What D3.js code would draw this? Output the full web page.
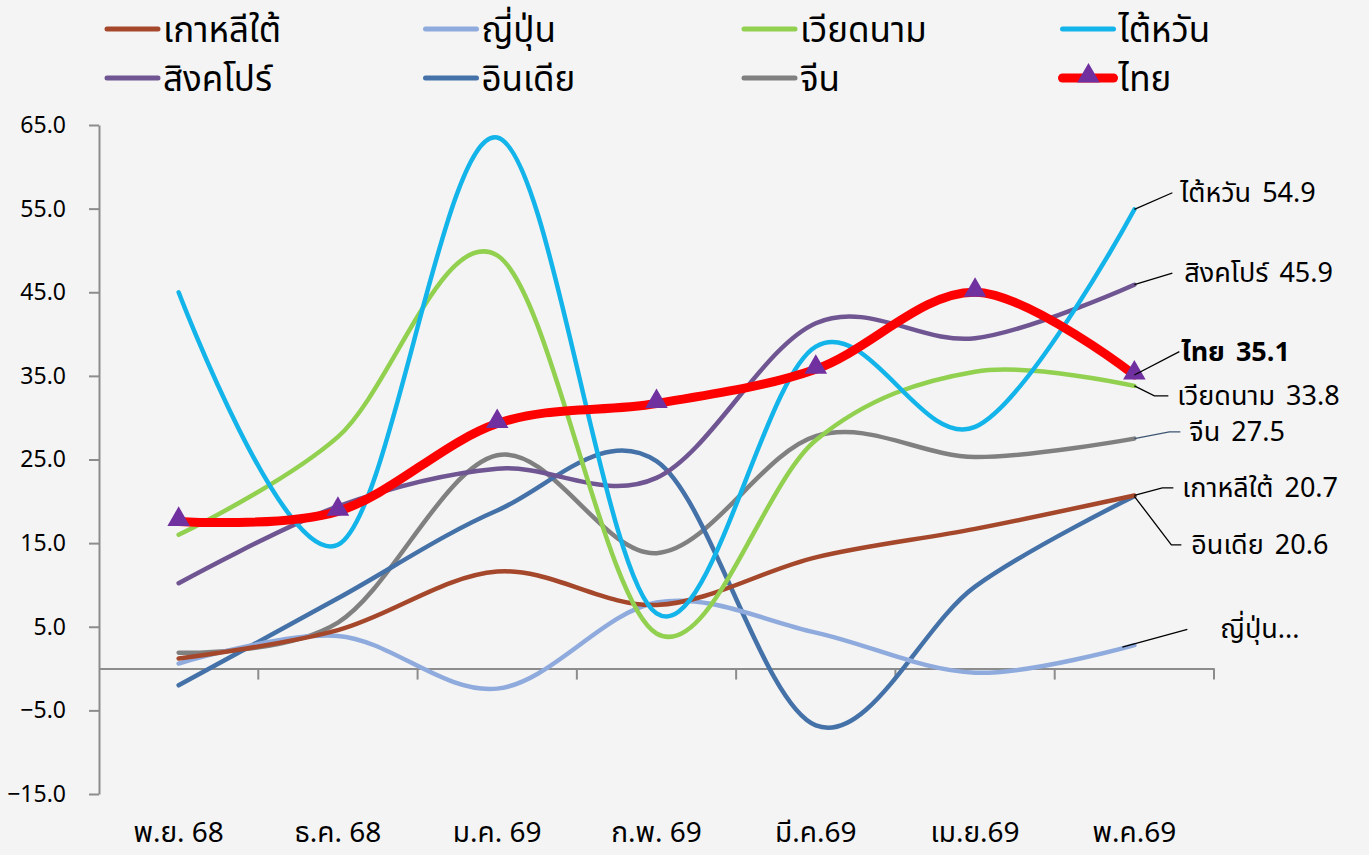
<!DOCTYPE html>
<html><head><meta charset="utf-8">
<script src="https://cdnjs.cloudflare.com/ajax/libs/d3/7.8.5/d3.min.js"></script>
<style>
html,body{margin:0;padding:0;background:#F4F4F4;}
svg{display:block;font-family:"Noto Sans Thai","Noto Sans","DejaVu Sans",sans-serif;}
</style></head><body>
<svg id="c" width="1369" height="855"></svg>
<script>
const months = ["พ.ย. 68","ธ.ค. 68","ม.ค. 69","ก.พ. 69","มี.ค.69","เม.ย.69","พ.ค.69"];
const yTicks = [-15,-5,5,15,25,35,45,55,65];
const korea     = [1.2, 4.6, 11.6, 7.6, 13.3, 16.7, 20.7];
const japan     = [0.6, 3.9, -2.4, 7.9, 4.3, -0.5, 2.8];
const vietnam   = [16.0, 27.7, 49.4, 4.2, 27.3, 35.5, 33.8];
const taiwan    = [45.0, 14.8, 63.5, 6.6, 38.5, 28.9, 54.9];
const singapore = [10.2, 19.4, 23.9, 22.8, 41.3, 39.5, 45.9];
const india     = [-2.0, 8.4, 18.9, 24.8, -6.8, 9.8, 20.6];
const china     = [1.9, 5.5, 25.5, 13.8, 27.8, 25.3, 27.5];
const thai      = [17.6, 18.8, 29.3, 31.7, 35.8, 45.0, 35.1];
const names = ["เกาหลีใต้","ญี่ปุ่น","เวียดนาม","ไต้หวัน","สิงคโปร์","อินเดีย","จีน","ไทย"];
const colors = ["#A5472B","#8FAADC","#92D050","#13B4EA","#6F5591","#4472A8","#808080","#FF0000"];
const seriesVals = [korea,japan,vietnam,taiwan,singapore,india,china,thai];

const svg = d3.select("#c");
const x = d3.scaleBand().domain(months).range([99,1214]).padding(0);
const y = d3.scaleLinear().domain([-15,65]).range([794,125]);
const cx = m => x(m) + x.bandwidth()/2;

// axes
const yAx = svg.append("g").attr("transform","translate(99,0)")
  .call(d3.axisLeft(y).tickValues(yTicks).tickFormat(d3.format(".1f")).tickSize(10).tickSizeOuter(0));
yAx.select(".domain").attr("stroke","#8C8C8C").attr("stroke-width",2);
yAx.selectAll(".tick line").attr("stroke","#8C8C8C").attr("stroke-width",2);
yAx.selectAll(".tick text").attr("font-size",23).attr("fill","#000").attr("x",-33)
   .attr("font-family","'Noto Sans', sans-serif").text(d=>d3.format(".1f")(d).replace("-","−"));

const xAx = svg.append("g").attr("transform",`translate(0,${y(0)})`)
  .call(d3.axisBottom(x).tickSize(0).tickFormat(""));
xAx.select(".domain").attr("stroke","#8C8C8C").attr("stroke-width",2);
svg.append("g").selectAll("line").data(months).join("line")
  .attr("x1",d=>x(d)+x.bandwidth()).attr("x2",d=>x(d)+x.bandwidth())
  .attr("y1",y(0)).attr("y2",y(0)+11).attr("stroke","#8C8C8C").attr("stroke-width",2);
svg.append("g").selectAll("text").data(months).join("text")
  .attr("x",cx).attr("y",842).attr("text-anchor","middle").attr("font-size",28).attr("fill","#000").text(d=>d);

// lines
const line = d3.line().x((d,i)=>cx(months[i])).y(d=>y(d)).curve(d3.curveCatmullRom.alpha(0));
const order = [6,5,1,0,4,2,3,7];
order.forEach(k=>{
  svg.append("path").datum(seriesVals[k]).attr("d",line).attr("fill","none")
    .attr("stroke",colors[k]).attr("stroke-width",k===7?9:4.5).attr("stroke-linecap","round");
});
const tri = d3.symbol().type(d3.symbolTriangle).size(220);
svg.append("g").selectAll("path").data(thai).join("path")
  .attr("d",tri).attr("transform",(d,i)=>`translate(${cx(months[i])},${y(d)-2})`).attr("fill","#7030A0");

// end labels
const last = months[months.length-1];
const ex = cx(last);
const labels = [
  {s:3, lv:56.9, pts:[[38,0]], tx:46, t:"ไต้หวัน 54.9"},
  {s:4, lv:47.3, pts:[[38,0]], tx:50, t:"สิงคโปร์ 45.9"},
  {s:7, lv:37.9, pts:[[45,0]], tx:47, t:"ไทย 35.1", bold:true},
  {s:2, lv:32.6, pts:[[20,0],[34,0]], tx:43, t:"เวียดนาม 33.8"},
  {s:6, lv:28.3, pts:[[35,0],[46,0]], tx:55, t:"จีน 27.5", lc:"#3D5572"},
  {s:0, lv:21.6, pts:[[28,0],[39,0]], tx:48, t:"เกาหลีใต้ 20.7"},
  {s:5, lv:14.8, pts:[[37,0],[47,0]], tx:57, t:"อินเดีย 20.6"},
  {s:1, lv:4.7, pts:[[53,0]], tx:86, t:"ญี่ปุ่น...", sx:-12}
];
labels.forEach(L=>{
  const v = seriesVals[L.s][6];
  const sx = ex + (L.sx||0), sy = y(v) + (L.sx?2:0);
  const ly = y(L.lv);
  const pts = [[sx,sy]].concat(L.pts.map(p=>[ex+p[0], ly]));
  svg.append("path").attr("d",d3.line()(pts)).attr("fill","none").attr("stroke",L.lc||"#000").attr("stroke-width",1.3);
  svg.append("text").attr("x",ex+L.tx).attr("y",ly).attr("dy","0.34em").attr("font-size",27)
    .attr("font-weight",L.bold?"bold":"normal").attr("fill","#000").attr("word-spacing",4).text(L.t);
});

// legend
const leg = svg.append("g");
names.forEach((n,i)=>{
  const col = i%4, row = Math.floor(i/4);
  const lx = 107 + col*318.5, ly = 29 + row*49;
  leg.append("line").attr("x1",lx).attr("x2",lx+51).attr("y1",ly).attr("y2",ly)
    .attr("stroke",colors[i]).attr("stroke-width",i===7?9:5).attr("stroke-linecap","round");
  if(i===7) leg.append("path").attr("d",tri).attr("transform",`translate(${lx+26},${ly-2})`).attr("fill","#7030A0");
  leg.append("text").attr("x",lx+56).attr("y",ly).attr("dy","0.36em").attr("font-size",35).attr("fill","#000").text(n);
});
</script>
</body></html>
